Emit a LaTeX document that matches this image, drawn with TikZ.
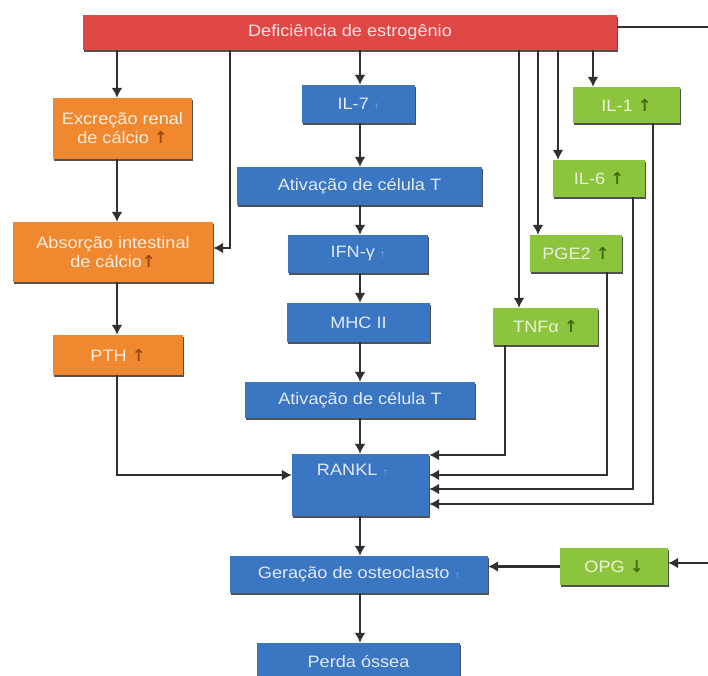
\documentclass[tikz,border=0pt]{standalone}
\usepackage{fontspec}
\setmainfont{Liberation Sans}[FakeStretch=1.1]
\newfontfamily\arrowfont{DejaVu Sans}
\usetikzlibrary{arrows.meta,shadows}

\definecolor{redbox}{HTML}{E04747}
\definecolor{orbox}{HTML}{EF882E}
\definecolor{blbox}{HTML}{3A76C2}
\definecolor{grbox}{HTML}{8DC43E}
\definecolor{linec}{HTML}{303030}
\definecolor{uporange}{HTML}{9A4A0C}
\definecolor{upgreen}{HTML}{3E6B12}
\definecolor{upblue}{HTML}{86B6EC}

% small up/down marks used inside the boxes
\newcommand\upO{\textcolor{uporange}{\arrowfont\bfseries ↑}}
\newcommand\upG{\textcolor{upgreen}{\arrowfont\bfseries ↑}}
\newcommand\downG{\textcolor{upgreen}{\arrowfont\bfseries ↓}}
\newcommand\upB{\textcolor{upblue}{\fontsize{10}{10}\selectfont ↑}}

\begin{document}
\begin{tikzpicture}[x=1pt,y=-1pt,
  boxfont/.style={font=\fontsize{16.5}{19}\selectfont},
  box/.style={rectangle, inner sep=2pt, align=center, boxfont,
    drop shadow={shadow xshift=1.3pt, shadow yshift=-1.8pt, fill=black!85, opacity=0.8}},
  rbox/.style={box, fill=redbox, text=white!85!redbox},
  obox/.style={box, fill=orbox, text=white!85!orbox},
  bbox/.style={box, fill=blbox, text=white!85!blbox},
  gbox/.style={box, fill=grbox, text=white!80!grbox},
  btext/.style={boxfont, text=white!85!blbox, inner sep=0pt},
  link/.style={draw=linec, line width=2.6pt},
  arr/.style={link, -{Latex[length=10pt,width=11pt]}}]

\useasboundingbox[fill=white] (0,0) rectangle (708,675);

% ---- boxes ----
\node[rbox, minimum width=534pt, minimum height=35pt] (red) at (350,32.5) {Deficiência de estrogênio};

\node[obox, minimum width=139pt, minimum height=61pt] (exc) at (122.5,128.5) {Excreção renal\\de cálcio \upO};
\node[obox, minimum width=200pt, minimum height=60pt] (abs) at (113,252) {Absorção intestinal\\de cálcio\upO};
\node[obox, minimum width=130pt, minimum height=40pt] (pth) at (118,355) {PTH \upO};

\node[bbox, minimum width=113pt, minimum height=38pt] (il7) at (358.5,104) {IL-7 \upB};
\node[bbox, minimum width=245pt, minimum height=38pt] (at1) at (359.5,186) {Ativação de célula T};
\node[bbox, minimum width=140pt, minimum height=38pt] (ifn) at (358,254) {IFN-γ \upB};
\node[bbox, minimum width=143pt, minimum height=39pt] (mhc) at (358.5,322.5) {MHC II};
\node[bbox, minimum width=230pt, minimum height=36pt] (at2) at (360,400) {Ativação de célula T};
\node[bbox, minimum width=137pt, minimum height=62pt,
      label={[btext, xshift=-8pt, yshift=15pt]center:RANKL \upB}] (rankl) at (360.5,485) {};
\node[bbox, minimum width=258pt, minimum height=37pt] (ger) at (359,574.5) {Geração de osteoclasto \upB};
\node[bbox, minimum width=203pt, minimum height=36pt] (perda) at (358.5,661) {Perda óssea};

\node[gbox, minimum width=107pt, minimum height=36pt] (il1) at (626.5,105) {IL-1 \upG};
\node[gbox, minimum width=92pt, minimum height=37pt] (il6) at (599,178.5) {IL-6 \upG};
\node[gbox, minimum width=92pt, minimum height=37pt] (pge) at (576,253.5) {PGE2 \upG};
\node[gbox, minimum width=105pt, minimum height=37pt] (tnf) at (545.5,326.5) {TNFα \upG};
\node[gbox, minimum width=108pt, minimum height=37pt] (opg) at (614,566.5) {OPG \downG};

% ---- columns used by the connectors ----
\coordinate (xL) at (117,0);
\coordinate (xM) at (230,0);
\coordinate (xC) at (360,0);
\coordinate (xT) at (519,0);
\coordinate (xP) at (538,0);
\coordinate (xS) at (558,0);
\coordinate (xI) at (593,0);
\coordinate (oT) at (505,0);
\coordinate (oP) at (607,0);
\coordinate (oS) at (633,0);
\coordinate (oI) at (653,0);
\coordinate (rt) at (716,27);
\coordinate (rb) at (716,563);

% ---- left column ----
\draw[arr] (red.south -| xL) -- (exc.north -| xL);
\draw[arr] (exc.south -| xL) -- (abs.north -| xL);
\draw[arr] (abs.south -| xL) -- (pth.north -| xL);
\draw[arr] (red.south -| xM) |- ([yshift=4pt]abs.east);
\draw[arr] (pth.south -| xL) |- ([yshift=10pt]rankl.west);

% ---- central column ----
\draw[arr] (red.south -| xC) -- (il7.north -| xC);
\draw[arr] (il7.south -| xC) -- (at1.north -| xC);
\draw[arr] (at1.south -| xC) -- (ifn.north -| xC);
\draw[arr] (ifn.south -| xC) -- (mhc.north -| xC);
\draw[arr] (mhc.south -| xC) -- (at2.north -| xC);
\draw[arr] (at2.south -| xC) -- (rankl.north -| xC);
\draw[arr] (rankl.south -| xC) -- (ger.north -| xC);
\draw[arr] (ger.south -| xC) -- (perda.north -| xC);

% ---- cytokines ----
\draw[arr] (red.south -| xT) -- (tnf.north -| xT);
\draw[arr] (red.south -| xP) -- (pge.north -| xP);
\draw[arr] (red.south -| xS) -- (il6.north -| xS);
\draw[arr] (red.south -| xI) -- (il1.north -| xI);

\draw[arr] (tnf.south -| oT) |- ([yshift=30pt]rankl.east);
\draw[arr] (pge.south -| oP) |- ([yshift=10pt]rankl.east);
\draw[arr] (il6.south -| oS) |- ([yshift=-4pt]rankl.east);
\draw[arr] (il1.south -| oI) |- ([yshift=-19pt]rankl.east);

% ---- OPG branch ----
\draw[arr] ([yshift=5.5pt]red.east) -- (rt) -- (rb) -- (opg.east |- rb);
\draw[arr] (opg.west) -- (ger.east |- opg.west);

\end{tikzpicture}
\end{document}
